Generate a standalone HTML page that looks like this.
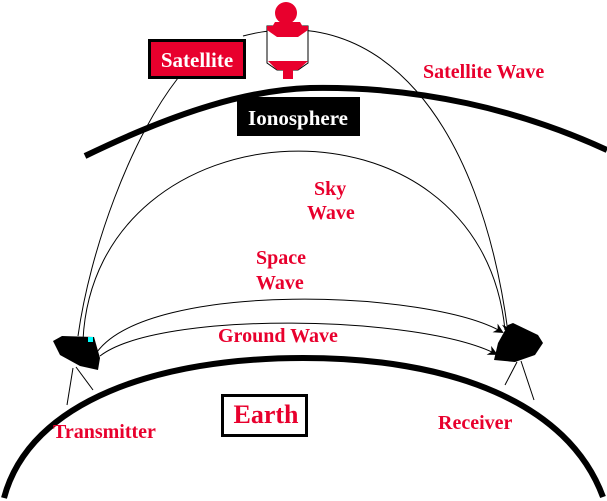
<!DOCTYPE html>
<html><head><style>body{margin:0;background:#fff}svg{display:block}text{font-family:"Liberation Serif",serif;font-weight:bold}</style></head>
<body>
<svg width="607" height="501" viewBox="0 0 607 501">
<defs><marker id="a" markerWidth="10" markerHeight="10" refX="8" refY="5" orient="auto" markerUnits="userSpaceOnUse"><path d="M0,0 L10,5 L0,10 L3,5 Z" fill="#000"/></marker></defs>
<path d="M4,498 C30,400 160,358 303,358 C450,358 568,402 603,497" fill="none" stroke="#000" stroke-width="6"/>
<path d="M85,156 C180,110 250,90 310,88 C420,86 520,110 607,150" fill="none" stroke="#000" stroke-width="6"/>
<path d="M78,336 C90,250 130,140 178,78" fill="none" stroke="#000" stroke-width="1"/>
<path d="M243,36 C380,0 480,120 508,332" fill="none" stroke="#000" stroke-width="1" marker-end="url(#a)"/>
<path d="M83,340 C95,100 480,80 505,330" fill="none" stroke="#000" stroke-width="1"/>
<path d="M97,352 C150,280 430,290 502,332" fill="none" stroke="#000" stroke-width="1" marker-end="url(#a)"/>
<path d="M100,356 C160,310 420,315 496,354" fill="none" stroke="#000" stroke-width="1" marker-end="url(#a)"/>
<path d="M53,341 L62,336 L94,337 L100,358 L98,370 L80,366 L60,355 Z" fill="#000"/>
<rect x="88" y="337" width="5" height="5" fill="#0ff"/>
<line x1="73" y1="368" x2="67" y2="405" stroke="#000"/>
<line x1="76" y1="367" x2="93" y2="390" stroke="#000"/>
<path d="M508,325 L513,323 L538,335 L543,343 L535,355 L515,362 L494,360 L498,343 Z" fill="#000"/>
<line x1="517" y1="362" x2="505" y2="385" stroke="#000"/>
<line x1="521" y1="361" x2="534" y2="400" stroke="#000"/>
<circle cx="286" cy="13" r="11" fill="#e8002d"/>
<path d="M267,26 L308,26 L308,63 L298,70 L277,70 L267,63 Z" fill="#fff" stroke="#000"/>
<path d="M267,26 L308,26 L308,30 L298,37 L277,37 L267,30 Z" fill="#e8002d"/>
<path d="M275,22 L300,22 L303,27 L272,27Z" fill="#e8002d"/>
<path d="M268,61 L308,61 L298,70 L277,70 Z" fill="#e8002d"/>
<rect x="283" y="70" width="10" height="9" fill="#e8002d"/>
<rect x="149.5" y="40.5" width="95" height="37" fill="#e8002d" stroke="#000" stroke-width="3"/>
<text x="197" y="67" fill="#fff" font-size="21" text-anchor="middle">Satellite</text>
<rect x="237" y="97" width="123" height="39" fill="#000"/>
<text x="298" y="125" fill="#fff" font-size="21" text-anchor="middle">Ionosphere</text>
<rect x="222.5" y="395.5" width="84" height="40" fill="#fff" stroke="#000" stroke-width="3"/>
<text x="266" y="423" fill="#e8002d" font-size="26" text-anchor="middle">Earth</text>
<g fill="#e8002d" font-size="20">
<text x="423" y="78">Satellite Wave</text>
<text x="314" y="195">Sky</text>
<text x="307" y="219">Wave</text>
<text x="256" y="264">Space</text>
<text x="256" y="289">Wave</text>
<text x="218" y="342">Ground Wave</text>
<text x="53" y="438">Transmitter</text>
<text x="438" y="429">Receiver</text>
</g>
</svg>
</body></html>
